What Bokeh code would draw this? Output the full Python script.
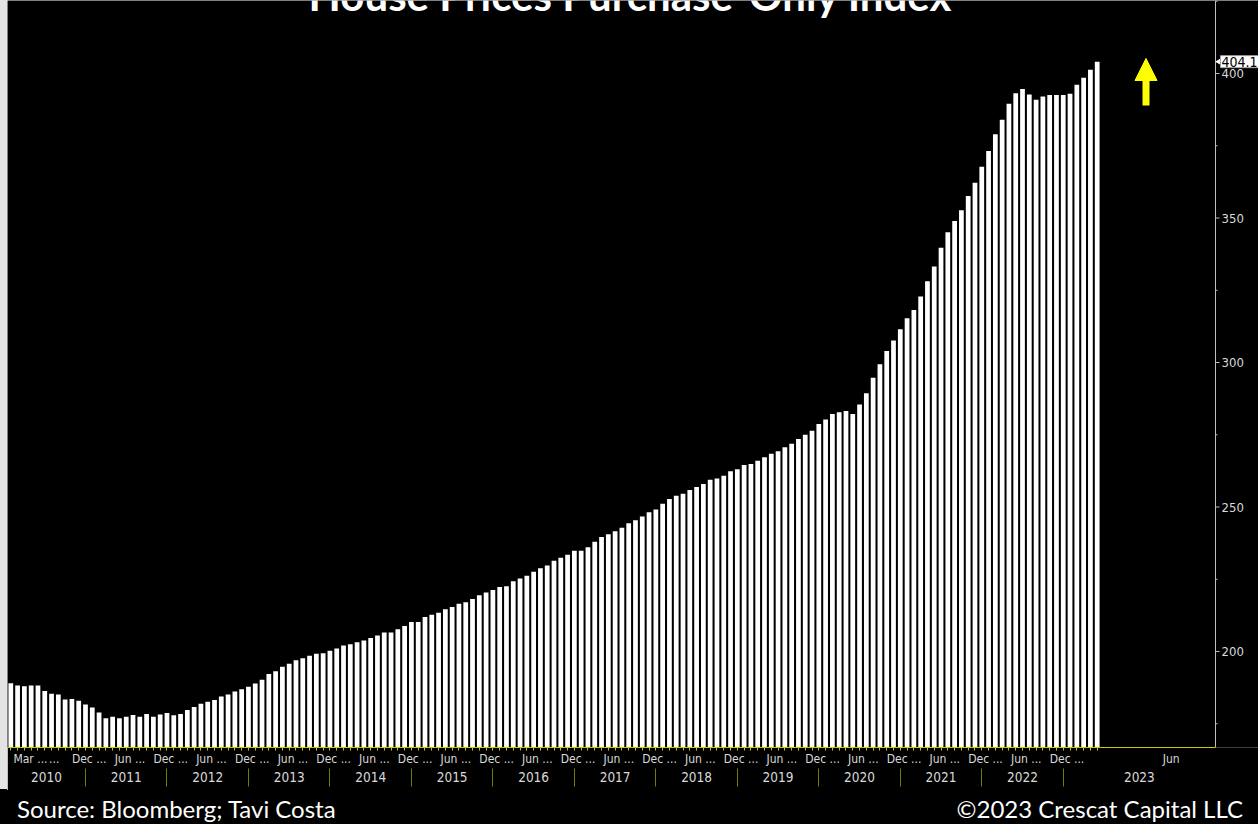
import math
import pandas as pd
from bokeh.plotting import figure
from bokeh.models import (Range1d, FixedTicker, LinearAxis, Label, Span,
                          Arrow, NormalHead, CustomJSTickFormatter, Div)
from bokeh.core.properties import value
from bokeh.layouts import row, column
from bokeh.embed import file_html
from bokeh.resources import INLINE

# FHFA house price index, purchase-only, monthly from Feb 2010
hpi = [
    189.0, 188.2, 188.0, 188.2, 188.2, 186.3, 185.4, 185.1, 183.4, 183.6, 183.0,
    181.7, 180.6, 178.9, 176.9, 177.4, 176.9, 177.4, 178.0, 177.4, 178.4, 177.4,
    178.2, 178.7, 177.9, 178.4, 179.8, 180.8, 181.9, 182.6, 183.2, 184.4, 185.1,
    186.2, 186.9, 187.8, 188.9, 190.2, 192.2, 193.2, 194.7, 195.8, 197.0, 197.7,
    198.5, 199.2, 199.4, 200.3, 201.0, 202.1, 202.5, 203.2, 203.8, 204.7, 205.5,
    206.6, 206.6, 207.7, 208.8, 210.2, 210.2, 211.9, 212.7, 213.4, 214.6,
    215.4, 216.5, 217.0, 218.2, 219.5, 220.4, 221.3, 222.3, 222.6, 224.3, 225.3,
    226.2, 227.6, 228.8, 229.8, 231.4, 232.4, 233.5, 234.9, 234.9, 236.1, 238.0,
    239.6, 240.6, 241.6, 242.8, 244.4, 245.4, 246.7, 248.2, 249.1, 251.1, 252.8,
    253.9, 254.6, 255.9, 256.9, 258.0, 259.4, 259.9, 260.8, 262.4, 263.1, 264.5,
    264.9, 266.0, 267.2, 268.4, 269.3, 270.7, 271.9, 273.5, 275.0, 276.4, 278.7,
    280.3, 282.2, 282.8, 283.2, 282.2, 285.5, 289.4,
    294.7, 299.4, 304.0, 307.6, 311.5, 315.3, 318.2, 322.8, 328.1, 333.2, 339.7,
    345.1, 349.0, 352.7, 357.6, 362.2, 367.7, 373.2, 379.0, 384.0, 389.5, 393.2,
    394.6, 392.7, 390.9, 392.0, 392.6, 392.6, 392.6, 393.0, 396.1, 398.5, 401.3,
    404.1,
]
months = pd.date_range("2010-02-01", periods=len(hpi), freq="MS")
idx = list(range(len(hpi)))

# y axis ticks
y_ticks = [200, 250, 300, 350, 400]
y_minor = [175, 225, 275, 325, 375, 425]

# month row: text labels and where their centres sit (in bar-index units)
half_year = [i for i, m in enumerate(months) if m.month in (6, 12) and 10 <= i <= 154]
month_label_text = ["Mar ...", "..."] + [months[i].strftime("%b") + " ..." for i in half_year] + ["Jun"]
month_label_pos = [2.9, 6.4] + [i + 1.55 for i in half_year] + [170.9]

# year row
year_sep_pos = [i for i, m in enumerate(months) if m.month == 1]
year_labels = [str(y) for y in range(2010, 2024)]

# geometry
W, H = 1258, 824
STRIP = 7
MAIN_H = 790
AXIS_X, FRAME_BOTTOM = 1215, 747
PX0, DPX = 10.3, 6.79          # first bar centre and bar pitch, px
Y400, PX_PER_UNIT = 73, 2.89    # pixel row of 400 and pixels per index point


def x_of(px):
    return (px - PX0) / DPX


def y_of(py):
    return 400 + (Y400 - py) / PX_PER_UNIT


X0, X1 = x_of(STRIP), x_of(W)
Y0, Y1 = y_of(FRAME_BOTTOM), y_of(0)
X_AXIS_END = x_of(AXIS_X)

bounds = [X0] + year_sep_pos + [X_AXIS_END]
year_label_pos = [(a + b) / 2 for a, b in zip(bounds[:-1], bounds[1:])]

AX_FONT = "DejaVu Sans Condensed, Roboto, sans-serif"
YELLOW_AXIS = "#c8c800"
OLIVE = "#77770c"
LIGHT = "#d9d9d9"
AXIS_GREY = "#bdbdbd"

p = figure(width=W - STRIP, height=MAIN_H, x_range=Range1d(X0, X1), y_range=Range1d(Y0, Y1),
           output_backend="svg", toolbar_location=None, y_axis_location=None,
           min_border_left=0, min_border_right=0,
           min_border_top=0, min_border_bottom=MAIN_H - FRAME_BOTTOM,
           background_fill_color="black", border_fill_color="black",
           outline_line_color=None)
p.xgrid.visible = False
p.ygrid.visible = False

p.vbar(x=idx, top=hpi, bottom=Y0 - 20, width=0.7, fill_color="white", line_color=None)


def lookup_formatter(positions, texts):
    return CustomJSTickFormatter(args=dict(pos=positions, txt=texts), code="""
        const k = pos.findIndex(v => Math.abs(v - tick) < 1e-6);
        return k >= 0 ? txt[k] : "";
    """)


# month axis: yellow baseline with a tick under every bar
xa = p.xaxis[0]
xa.bounds = (X0, X_AXIS_END)
xa.ticker = FixedTicker(ticks=month_label_pos, minor_ticks=idx)
xa.formatter = lookup_formatter(month_label_pos, month_label_text)
xa.axis_line_color = YELLOW_AXIS
xa.major_tick_line_color = None
xa.major_tick_out = 0
xa.major_tick_in = 0
xa.minor_tick_line_color = YELLOW_AXIS
xa.minor_tick_out = 3
xa.minor_tick_in = 0
xa.major_label_text_color = LIGHT
xa.major_label_text_font_size = "12px"
xa.major_label_text_font = AX_FONT
xa.major_label_standoff = 1

# year axis: separators at each January, year names between them
xa2 = LinearAxis(ticker=FixedTicker(ticks=year_label_pos, minor_ticks=year_sep_pos),
                 formatter=lookup_formatter(year_label_pos, year_labels),
                 bounds=(X0, X_AXIS_END))
xa2.axis_line_color = None
xa2.major_tick_line_color = None
xa2.major_tick_out = 0
xa2.major_tick_in = 0
xa2.minor_tick_line_color = OLIVE
xa2.minor_tick_out = 18
xa2.minor_tick_in = 0
xa2.major_label_text_color = LIGHT
xa2.major_label_text_font_size = "13.5px"
xa2.major_label_text_font = AX_FONT
xa2.major_label_standoff = -15
p.add_layout(xa2, "below")

# value scale on the right edge of the bars area
p.add_layout(Span(location=X_AXIS_END, dimension="height", line_color=AXIS_GREY, line_width=1))
p.segment(x0=[X_AXIS_END] * len(y_ticks), x1=[x_of(AXIS_X + 4)] * len(y_ticks),
          y0=y_ticks, y1=y_ticks, line_color=AXIS_GREY, line_width=1)
p.segment(x0=[X_AXIS_END] * len(y_minor), x1=[x_of(AXIS_X + 2)] * len(y_minor),
          y0=y_minor, y1=y_minor, line_color=AXIS_GREY, line_width=1)
p.text(x=[x_of(AXIS_X + 6)] * len(y_ticks), y=y_ticks, text=[str(t) for t in y_ticks],
       text_align="left", text_baseline="middle", text_color=LIGHT,
       text_font=value(AX_FONT), text_font_size="13px")

# latest value tag on the scale
p.scatter(x=[x_of(AXIS_X + 4.5)], y=[hpi[-1]], marker="triangle", angle=math.pi / 2,
          size=7, fill_color="white", line_color="white")
p.add_layout(Label(x=x_of(AXIS_X + 5), y=hpi[-1], text=f"{hpi[-1]:.1f}",
                   text_align="left", text_baseline="middle",
                   text_color="black", text_font_size="14px", text_font=AX_FONT,
                   background_fill_color="white", border_line_color="#a0a0a0",
                   padding=1))

# upward arrow
arrow_x = x_of(1145.5)
p.add_layout(Arrow(end=NormalHead(size=22, fill_color="#ffff00", line_color="#ffff00"),
                   x_start=arrow_x, y_start=y_of(105), x_end=arrow_x, y_end=y_of(58),
                   line_color="#ffff00", line_width=7))

# title, running off the top edge
p.text(x=[x_of(630)], y=[y_of(-5.5)], text=["House Prices Purchase-Only Index"],
       text_align="center", text_baseline="alphabetic", text_color="white",
       text_font=value("Lato"), text_font_style="bold", text_font_size="42px")

strip = Div(width=STRIP, height=MAIN_H, margin=0,
            styles={"background": "linear-gradient(to bottom, #e3e3e3 0px, #e3e3e3 789px, #000000 789px)"})

footer = Div(width=W, height=H - MAIN_H, margin=0, styles={"background-color": "black"},
             text=('<div style="display:flex;justify-content:space-between;align-items:flex-end;'
                   'width:1258px;height:34px;box-sizing:border-box;padding:0 15px 3px 17px;'
                   'font-family:Lato;font-size:24px;color:white;line-height:1;">'
                   '<span>Source: Bloomberg; Tavi Costa</span>'
                   '<span>&copy;2023 Crescat Capital LLC</span></div>'))

layout = column(row(strip, p, spacing=0), footer, spacing=0)
open("out.html", "w").write(file_html(layout, INLINE))
